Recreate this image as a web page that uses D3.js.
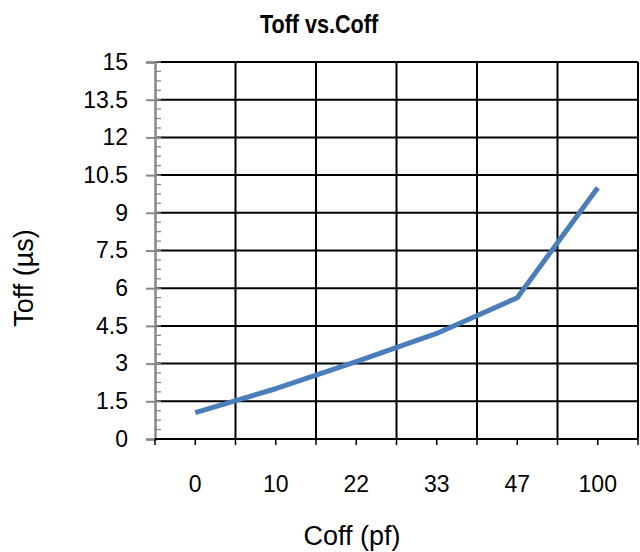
<!DOCTYPE html>
<html>
<head>
<meta charset="utf-8">
<script src="https://cdn.jsdelivr.net/npm/d3@7"></script>
<style>
body { margin: 0; background: #fff; }
text { font-family: "Liberation Sans", Arial, sans-serif; }
</style>
</head>
<body>
<svg id="chart" width="640" height="552"></svg>
<script>
// data
var categories = ['0', '10', '22', '33', '47', '100']
var toffValues = [1.05, 2.0, 3.08, 4.2, 5.62, 10.0]
var yTicks = [0, 1.5, 3, 4.5, 6, 7.5, 9, 10.5, 12, 13.5, 15]

var svg = d3.select('#chart')
var pLeft = 155, pRight = 638, pTop = 62, pBottom = 439

var x = d3.scaleBand().domain(categories).range([pLeft, pRight])
var y = d3.scaleLinear().domain([0, 15]).range([pBottom, pTop])

// gridlines
svg.append('g').selectAll('line').data(yTicks.slice(1)).enter().append('line')
    .attr('x1', pLeft).attr('x2', pRight)
    .attr('y1', function(d){return y(d)}).attr('y2', function(d){return y(d)})
    .attr('stroke', '#000').attr('stroke-width', 2)

var bounds = categories.map(function(c){return x(c)}).concat([pRight])
svg.append('g').selectAll('line').data(bounds.slice(1)).enter().append('line')
    .attr('x1', function(d){return d}).attr('x2', function(d){return d})
    .attr('y1', pTop).attr('y2', pBottom)
    .attr('stroke', '#000').attr('stroke-width', 2)

// minor ticks on y axis
var minor = d3.range(0, 15.001, 0.375)
svg.append('g').selectAll('line').data(minor).enter().append('line')
    .attr('x1', pLeft).attr('x2', pLeft + 6)
    .attr('y1', function(d){return y(d)}).attr('y2', function(d){return y(d)})
    .attr('stroke', '#888').attr('stroke-width', 1.3)

// y axis
var yAxis = svg.append('g').attr('transform', 'translate(' + pLeft + ',0)')
    .call(d3.axisLeft(y).tickValues(yTicks).tickSize(9).tickPadding(18)
        .tickFormat(function(d){return d3.format('')(d)}))
yAxis.select('.domain').attr('stroke', '#888').attr('stroke-width', 2.5)
yAxis.selectAll('.tick line').attr('stroke', '#888').attr('stroke-width', 2)
yAxis.selectAll('.tick text').attr('font-size', 23).attr('fill', '#000')
    .attr('font-family', '"Liberation Sans", Arial, sans-serif')

// x axis
svg.append('line').attr('x1', pLeft).attr('x2', pRight).attr('y1', pBottom).attr('y2', pBottom)
    .attr('stroke', '#000').attr('stroke-width', 2)
var xt = bounds.concat(categories.map(function(c){return x(c) + x.bandwidth() / 2}))
svg.append('g').selectAll('line').data(xt).enter().append('line')
    .attr('x1', function(d){return d}).attr('x2', function(d){return d})
    .attr('y1', pBottom).attr('y2', pBottom + 6)
    .attr('stroke', '#000').attr('stroke-width', 1.5)
svg.append('g').selectAll('text').data(categories).enter().append('text')
    .attr('x', function(d){return x(d) + x.bandwidth() / 2})
    .attr('y', 492)
    .attr('text-anchor', 'middle').attr('font-size', 23)
    .text(function(d){return d})

// series line
var line = d3.line()
    .x(function(d, i){return x(categories[i]) + x.bandwidth() / 2})
    .y(function(d){return y(d)})
svg.append('path').datum(toffValues)
    .attr('d', line)
    .attr('fill', 'none').attr('stroke', '#4a7ebb').attr('stroke-width', 5)
    .attr('stroke-linejoin', 'round')

// titles
svg.append('text').attr('transform', 'translate(319,33) scale(0.83,1)').attr('text-anchor', 'middle')
    .attr('font-size', 26).attr('font-weight', 'bold').text('Toff vs.Coff')
svg.append('text').attr('transform', 'translate(33,278) rotate(-90)')
    .attr('text-anchor', 'middle').attr('font-size', 27).text('Toff (µs)')
svg.append('text').attr('x', 352).attr('y', 545).attr('text-anchor', 'middle')
    .attr('font-size', 27).text('Coff (pf)')
</script>
</body>
</html>
